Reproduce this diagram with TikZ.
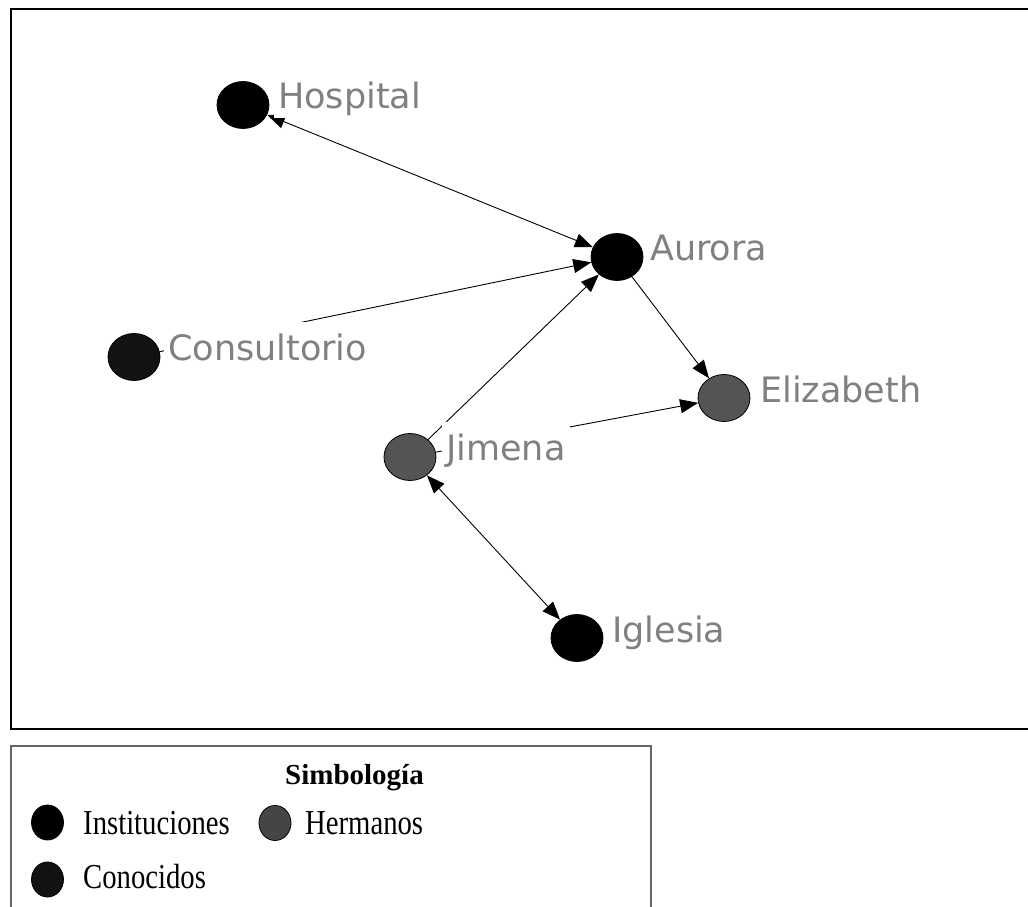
\documentclass[tikz,border=0pt]{standalone}
\usepackage{fontspec}
\setmainfont{Liberation Serif}
\newfontfamily\netfont{DejaVu Sans}
\newfontfamily\keyfont[FakeStretch=0.82]{Liberation Serif}
\usetikzlibrary{arrows.meta,shapes.geometric}

\begin{document}
\begin{tikzpicture}[x=1pt,y=-1pt,
  actor/.style={ellipse,draw=black,line width=0.8pt,minimum width=52pt,minimum height=47pt,inner sep=0pt},
  inst/.style={actor,fill=black},
  conoc/.style={actor,fill=black!93},
  herm/.style={actor,fill=black!67},
  actorlabel/.style={anchor=base west,fill=white,text=black!50,
    font=\netfont\fontsize{35}{40}\selectfont,
    text height=35pt,text depth=7pt,inner xsep=4pt,inner ysep=3pt},
  tie/.style={line width=0.9pt,-{Triangle[length=18pt,width=14pt]}},
  mutual/.style={line width=0.9pt,{Triangle[length=18pt,width=14pt]}-{Triangle[length=18pt,width=14pt]}},
  frameline/.style={line width=2.2pt,black},
  keyline/.style={line width=1.3pt,black!60},
  keydot/.style={ellipse,draw=black,line width=0.8pt,minimum width=32pt,minimum height=35pt,inner sep=0pt},
  keytext/.style={anchor=base west,inner sep=0pt,font=\keyfont\fontsize{35}{40}\selectfont}]

\useasboundingbox (0,0) rectangle (1028,907);

% network frame
\draw[frameline] (1030,9) -- (11,9) -- (11,729) -- (1030,729);

% actors
\node[inst]  (hospital)    at (243,105) {};
\node[inst]  (aurora)      at (617,257) {};
\node[conoc] (consultorio) at (134,357) {};
\node[herm]  (jimena)      at (410,457) {};
\node[herm]  (elizabeth)   at (724,398) {};
\node[inst]  (iglesia)     at (577,638) {};

% ties
\draw[mutual] (hospital) -- (aurora);
\draw[tie]    (consultorio) -- (aurora);
\draw[tie]    (jimena) -- (aurora);
\draw[tie]    (aurora) -- (elizabeth);
\draw[tie]    (jimena) -- (elizabeth);
\draw[mutual] (jimena) -- (iglesia);

% actor names
\node[actorlabel] (hospital-l)    at (274,108) {Hospital};
\node[actorlabel] (aurora-l)      at (646,260) {Aurora};
\node[actorlabel] (consultorio-l) at (164,360) {Consultorio};
\node[actorlabel] (jimena-l)      at (442,460) {Jimena};
\node[actorlabel] (elizabeth-l)   at (756,402) {Elizabeth};
\node[actorlabel] (iglesia-l)     at (608,642) {Iglesia};

% key
\draw[keyline] (651,910) -- (651,746) -- (11,746) -- (11,910);
\node[anchor=base west,inner sep=0pt,font=\bfseries\fontsize{29}{34}\selectfont] (key-title) at (285,784) {Simbología};
\node[keydot,fill=black]    (key-inst) at (47.5,822.5) {};
\node[keytext] (key-inst-l) at (83,834) {Instituciones};
\node[keydot,fill=black!73] (key-herm) at (275,823) {};
\node[keytext] (key-herm-l) at (305,834) {Hermanos};
\node[keydot,fill=black!93] (key-conoc) at (47.5,879.5) {};
\node[keytext] (key-conoc-l) at (83,888) {Conocidos};
\end{tikzpicture}
\end{document}
